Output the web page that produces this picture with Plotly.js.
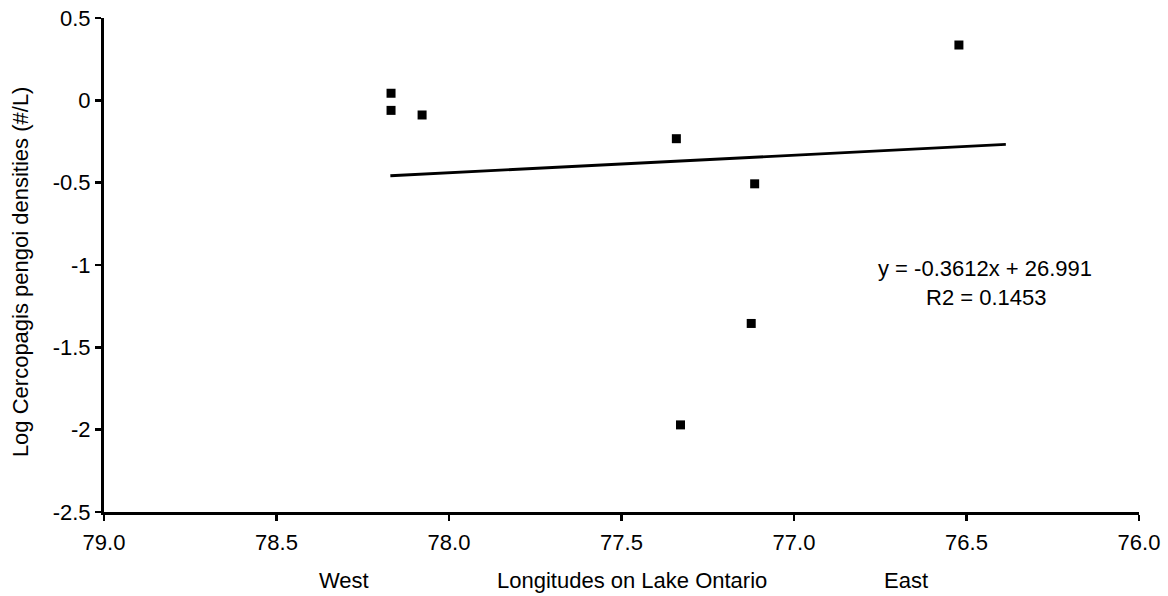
<!DOCTYPE html>
<html>
<head>
<meta charset="utf-8">
<script src="https://cdn.plot.ly/plotly-3.0.1.min.js"></script>
<style>
  html, body { margin: 0; padding: 0; background: #fff; }
  #chart { width: 1168px; height: 596px; }
</style>
</head>
<body>
<div id="chart"></div>
<script>
// Sampling stations: longitude (degrees W) and log Cercopagis pengoi density (#/L)
const longitudes = [78.168, 78.168, 78.078, 77.341, 77.114, 77.124, 77.329, 76.522];
const logDensities = [0.043, -0.061, -0.089, -0.233, -0.507, -1.355, -1.971, 0.336];

// Linear trend line end points
const trendX = [78.170, 76.386];
const trendY = [-0.458, -0.268];

// Axis ticks
const yTickVals = [0.5, 0, -0.5, -1, -1.5, -2, -2.5];
const yTickText = ['0.5', '0', '-0.5', '-1', '-1.5', '-2', '-2.5'];
const xTickVals = [79.0, 78.5, 78.0, 77.5, 77.0, 76.5, 76.0];
const xTickText = ['79.0', '78.5', '78.0', '77.5', '77.0', '76.5', '76.0'];

// Text labels
const equationText = 'y = -0.3612x + 26.991';
const r2Text = 'R2 = 0.1453';
const yTitle = 'Log Cercopagis pengoi densities (#/L)';
const xTitle = 'Longitudes on Lake Ontario';
const westLabel = 'West';
const eastLabel = 'East';

const FONT = 'Arial, "Liberation Sans", sans-serif';
const FS = 22;
const txt = { family: FONT, size: FS, color: '#000' };

const traces = [
  {
    x: trendX, y: trendY,
    type: 'scatter', mode: 'lines',
    line: { color: '#000', width: 2.8 },
    hoverinfo: 'skip', showlegend: false
  },
  {
    x: longitudes, y: logDensities,
    type: 'scatter', mode: 'markers',
    marker: { symbol: 'square', size: 9, color: '#000' },
    showlegend: false
  }
];

const axisCommon = {
  showgrid: false, zeroline: false,
  showline: true, linecolor: '#000', linewidth: 3,
  ticks: 'outside', ticklen: 6, tickwidth: 2.5, tickcolor: '#000',
  tickfont: txt,
  fixedrange: true
};

function label(text, x, y, extra) {
  return Object.assign({
    text: text, xref: 'paper', yref: 'paper', x: x, y: y,
    xanchor: 'center', yanchor: 'middle', showarrow: false, font: txt
  }, extra || {});
}

const layout = {
  width: 1168, height: 596,
  margin: { l: 104, r: 29, t: 18, b: 84 },
  paper_bgcolor: '#fff', plot_bgcolor: '#fff',
  font: txt,
  xaxis: Object.assign({}, axisCommon, {
    range: [79, 76],
    tickmode: 'array', tickvals: xTickVals, ticktext: xTickText,
    ticklabelstandoff: 3
  }),
  yaxis: Object.assign({}, axisCommon, {
    range: [-2.5, 0.5],
    tickmode: 'array', tickvals: yTickVals, ticktext: yTickText
  }),
  annotations: [
    label(equationText, 0.851, 0.492),
    label(r2Text, 0.852, 0.435),
    label(yTitle, -0.080, 0.486, { textangle: -90 }),
    label(westLabel, 0.232, -0.1377),
    label(xTitle, 0.510, -0.1377),
    label(eastLabel, 0.775, -0.1377)
  ]
};

Plotly.newPlot('chart', traces, layout, { displayModeBar: false, staticPlot: true });
</script>
</body>
</html>
